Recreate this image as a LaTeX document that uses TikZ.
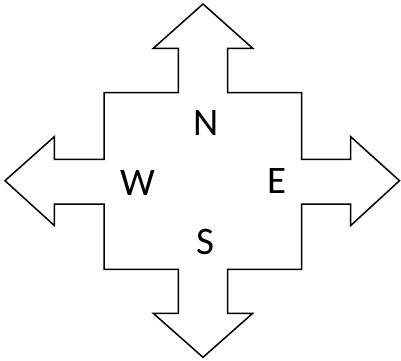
\documentclass[tikz,border=0pt]{standalone}
\usepackage{fontspec}
\setmainfont{Carlito}
\usepackage{tikz}
\usetikzlibrary{positioning}

\begin{document}
\begin{tikzpicture}[
			x=1pt,y=-1pt,
			outline/.style={draw=black,line width=1.5pt,line join=miter,fill=white},
			dirlabel/.style={font=\fontsize{39}{44}\selectfont,inner sep=0pt,text=black}
			]
			\useasboundingbox (0,0) rectangle (401,360);
			% cross with the four arrows
			\draw[outline] (203,4) -- (252.7,48.3) -- (227.7,48.3) -- (227.7,92.7) -- (301.7,92.7)
				-- (301.7,159.3) -- (350.7,159.3) -- (350.7,136.7) -- (399.5,180.7) -- (350.7,225.5)
				-- (350.7,204) -- (301.7,204) -- (301.7,269.3) -- (227.7,269.3) -- (227.7,313.3)
				-- (252.7,313.3) -- (203,357.3) -- (153.3,313.3) -- (178.3,313.3) -- (178.3,269.3)
				-- (104,269.3) -- (104,204) -- (54.3,204) -- (54.3,225.5) -- (5,180.7)
				-- (54.3,136.7) -- (54.3,159.3) -- (104,159.3) -- (104,92.7) -- (178.3,92.7)
				-- (178.3,48.3) -- (153.3,48.3) -- cycle;
			\node[dirlabel] (north) at (206.5,122.7) {N};
			\node[dirlabel] (west) at (137.7,183.3) {W};
			\node[dirlabel] (east) at (276.7,181.3) {E};
			\node[dirlabel] (south) at (205,241.8) {S};
		\end{tikzpicture}
\end{document}
